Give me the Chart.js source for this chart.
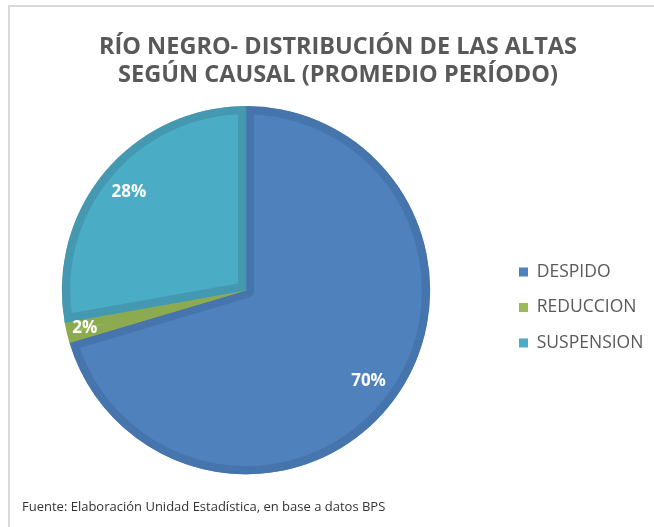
<!DOCTYPE html>
<html>
<head>
<meta charset="utf-8">
<script src="https://cdn.jsdelivr.net/npm/chart.js"></script>
<style>
  html, body { margin: 0; padding: 0; background: #fff; }
  #wrap { position: relative; width: 654px; height: 527px; overflow: hidden; }
  #marco { position: absolute; left: 8px; top: 5px; right: -4px; bottom: -4px;
           border-top: 2px solid #d9d9d9; border-left: 2px solid #d9d9d9; }
  canvas { position: absolute; left: 0; top: 0; }
</style>
</head>
<body>
<div id="wrap">
  <div id="marco"></div>
  <canvas id="grafica" width="654" height="527"></canvas>
</div>
<script>
const causales = ["DESPIDO", "REDUCCION", "SUSPENSION"];
const porcentajes = [70.4, 1.8, 27.8];
const colores = ["#4f81bd", "#9bbb59", "#4bacc6"];
const bordes = ["#4674ad", "#8caa50", "#4499b1"];
const titulo = ["RÍO NEGRO- DISTRIBUCIÓN DE LAS ALTAS", "SEGÚN CAUSAL (PROMEDIO PERÍODO)"];
const fuente = "Fuente: Elaboración Unidad Estadística, en base a datos BPS";

document.addEventListener("DOMContentLoaded", function () {

    const CENTRO_X = 246;
    const LEYENDA_X = 501;
    const LEYENDA_Y = 44;

    // acomoda el area de la torta y la leyenda como en la hoja original
    const acomodar = {
        id: "acomodar",
        afterLayout(chart) {
            const ca = chart.chartArea;
            ca.right = 2 * CENTRO_X - ca.left;
            ca.width = ca.right - ca.left;
            const lg = chart.legend;
            const w = lg.width;
            lg.left = LEYENDA_X;
            lg.right = LEYENDA_X + w;
            lg.top += LEYENDA_Y;
            lg.bottom += LEYENDA_Y;
        }
    };

    // porcentajes blancos sobre cada porcion
    const etiquetas = {
        id: "etiquetas",
        afterDatasetsDraw(chart) {
            const ctx = chart.ctx;
            const meta = chart.getDatasetMeta(0);
            const datos = chart.data.datasets[0].data;
            const total = datos.reduce((a, b) => a + b, 0);
            ctx.save();
            ctx.font = 'bold 17px "Open Sans"';
            ctx.fillStyle = "#ffffff";
            ctx.textAlign = "center";
            ctx.textBaseline = "middle";
            meta.data.forEach(function (arc, i) {
                const p = arc.getProps(["x", "y", "startAngle", "endAngle", "outerRadius"], true);
                const parte = datos[i] / total;
                const medio = (p.startAngle + p.endAngle) / 2;
                const f = parte < 0.05 ? 0.9 : 0.83;
                ctx.fillText(Math.round(parte * 100) + "%",
                    p.x + Math.cos(medio) * p.outerRadius * f,
                    p.y + Math.sin(medio) * p.outerRadius * f);
            });
            ctx.restore();
        }
    };

    const baseLabels = Chart.overrides.doughnut.plugins.legend.labels.generateLabels;

    let micanvas = document.getElementById("grafica").getContext("2d");

    new Chart(micanvas, {
        type: "pie",
        data: {
            labels: causales,
            datasets: [
                {
                    data: porcentajes,
                    backgroundColor: colores,
                    borderColor: bordes,
                    borderWidth: 8,
                    borderAlign: "inner"
                }
            ]
        },
        options: {
            responsive: false,
            animation: false,
            layout: { padding: { left: 22, right: 0, top: 0, bottom: 0 } },
            plugins: {
                title: {
                    display: true,
                    text: titulo,
                    color: "#595959",
                    font: { family: "Open Sans", size: 23.5, weight: "bold", lineHeight: "28px" },
                    padding: { top: 33, bottom: 17 }
                },
                subtitle: {
                    display: true,
                    text: fuente,
                    position: "bottom",
                    align: "start",
                    color: "#333333",
                    font: { family: "Open Sans", size: 13, lineHeight: 1.2 },
                    padding: { top: 25, bottom: 12 }
                },
                legend: {
                    display: true,
                    position: "right",
                    labels: {
                        boxWidth: 9,
                        boxHeight: 9,
                        padding: 18,
                        color: "#595959",
                        font: { family: "Open Sans", size: 17.5 },
                        generateLabels: function (chart) {
                            return baseLabels(chart).map(function (l) {
                                l.lineWidth = 0;
                                l.strokeStyle = l.fillStyle;
                                return l;
                            });
                        }
                    }
                },
                tooltip: { enabled: false }
            }
        },
        plugins: [acomodar, etiquetas]
    });

});
</script>
</body>
</html>
